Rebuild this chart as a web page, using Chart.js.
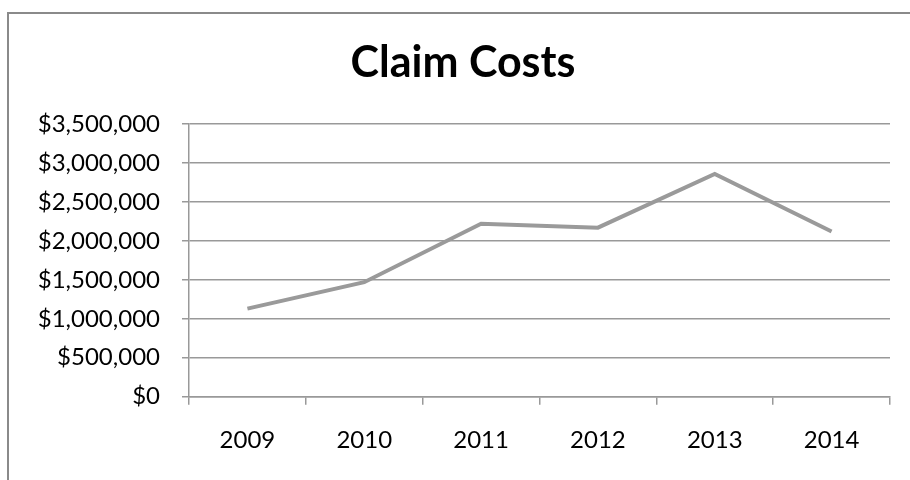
<!DOCTYPE html>
<html>
<head>
<meta charset="utf-8">
<script src="https://cdn.jsdelivr.net/npm/chart.js@4/dist/chart.umd.min.js"></script>
<style>
  html, body { margin: 0; padding: 0; background: #fff; }
  #frame { position: absolute; left: 7px; top: 12px; width: 910px; height: 480px;
           border-left: 2px solid #8a8a8a; border-top: 2px solid #8a8a8a; }
  #wrap { position: absolute; left: 0; top: 0; width: 910px; height: 480px; }
</style>
</head>
<body>
<div id="frame"></div>
<div id="wrap"><canvas id="chart" width="910" height="480"></canvas></div>
<script>
// claim costs by year
const years = ['2009', '2010', '2011', '2012', '2013', '2014'];
const claimCosts = [1130000, 1470000, 2220000, 2170000, 2860000, 2120000];
const yMax = 3500000;
const yStep = 500000;

const fontFamily = 'Lato, "Open Sans", sans-serif';

new Chart(document.getElementById('chart').getContext('2d'), {
    type: 'line',
    data: {
        labels: years,
        datasets: [{
            label: 'Claim Costs',
            data: claimCosts,
            borderColor: '#9a9a9a',
            borderWidth: 4,
            pointRadius: 0,
            tension: 0,
            fill: false
        }]
    },
    options: {
        responsive: false,
        animation: false,
        // left padding pushes the title centre right, like the original
        layout: { padding: { left: 36, right: 20, top: 0, bottom: 4.5 } },
        plugins: {
            legend: { display: false },
            tooltip: { enabled: false },
            title: {
                display: true,
                text: 'Claim Costs',
                color: '#000',
                font: { family: fontFamily, size: 43, weight: 'bold' },
                padding: { top: 37, bottom: 35.4 }
            }
        },
        scales: {
            x: {
                offset: true,
                grid: {
                    offset: true,
                    drawOnChartArea: false,
                    tickLength: 8,
                    color: '#999',
                    lineWidth: 1.5
                },
                border: { color: '#999', width: 1.5 },
                ticks: {
                    color: '#000',
                    padding: 21,
                    font: { family: fontFamily, size: 24 }
                }
            },
            y: {
                min: 0,
                max: yMax,
                afterFit: (axis) => { axis.width = 153; },
                grid: {
                    color: '#999',
                    lineWidth: 1.5,
                    tickLength: 7
                },
                border: { color: '#999', width: 1.5 },
                ticks: {
                    stepSize: yStep,
                    color: '#000',
                    padding: 22,
                    font: { family: fontFamily, size: 24 },
                    callback: (value) => '$' + value.toLocaleString('en-US')
                }
            }
        }
    }
});
</script>
</body>
</html>
